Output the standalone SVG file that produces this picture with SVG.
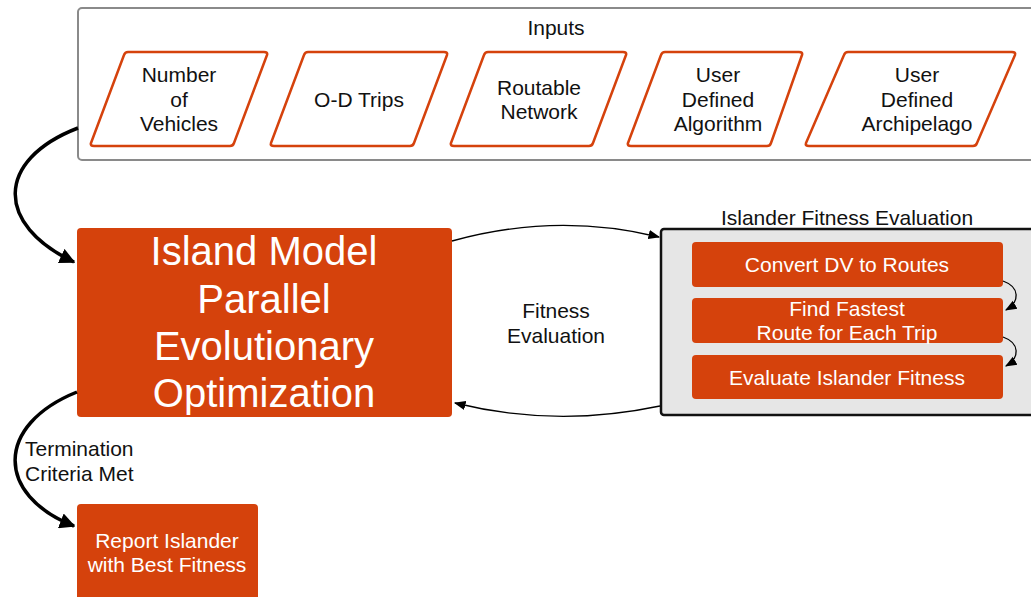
<svg xmlns="http://www.w3.org/2000/svg" width="1031" height="597" viewBox="0 0 1031 597">
<defs>
<style>
.t{font-family:"Liberation Sans",Arial,sans-serif;font-size:21px;fill:#111;text-anchor:middle}
.w{fill:#fff}
.big{font-size:40px}
.para{fill:#fff;stroke:#D5420C;stroke-width:2.5;stroke-linejoin:round}
.box{fill:#D5420C}
.thick{fill:none;stroke:#000;stroke-width:3.5}
.thin{fill:none;stroke:#000;stroke-width:1.3}
</style>
<marker id="ab" viewBox="0 0 10 10" refX="9" refY="5" markerWidth="4.5" markerHeight="4.5" orient="auto" markerUnits="strokeWidth"><path d="M0,0 L10,5 L0,10 z" fill="#000"/></marker>
<marker id="as" viewBox="0 0 10 10" refX="9" refY="5" markerWidth="9" markerHeight="9" orient="auto" markerUnits="strokeWidth"><path d="M0,1 L10,5 L0,9 z" fill="#000"/></marker>
</defs>
<g id="inputs">
<rect x="78" y="8" width="970" height="152" rx="4" fill="#fff" stroke="#8a8a8a" stroke-width="2"/>
<text class="t" x="556" y="35">Inputs</text>
</g>
<g id="in-vehicles">
<path class="para" d="M128,52 L264,52 Q268,52 267,55 L234,143 Q233,146 230,146 L94,146 Q90,146 91,143 L124,55 Q125,52 128,52 Z"/>
<text class="t" x="179" y="82">Number</text><text class="t" x="179" y="107">of</text><text class="t" x="179" y="131">Vehicles</text>
</g>
<g id="in-od">
<path class="para" d="M308,52 L444,52 Q448,52 447,55 L414,143 Q413,146 410,146 L274,146 Q270,146 271,143 L304,55 Q305,52 308,52 Z"/>
<text class="t" x="359" y="107">O-D Trips</text>
</g>
<g id="in-network">
<path class="para" d="M488,52 L623,52 Q627,52 626,55 L593,143 Q592,146 589,146 L454,146 Q450,146 451,143 L484,55 Q485,52 488,52 Z"/>
<text class="t" x="539" y="95">Routable</text><text class="t" x="539" y="119">Network</text>
</g>
<g id="in-algorithm">
<path class="para" d="M665,52 L799,52 Q803,52 802,55 L771,143 Q770,146 767,146 L631,146 Q627,146 628,143 L661,55 Q662,52 665,52 Z"/>
<text class="t" x="718" y="82">User</text><text class="t" x="718" y="107">Defined</text><text class="t" x="718" y="131">Algorithm</text>
</g>
<g id="in-archipelago">
<path class="para" d="M848,52 L1012,52 Q1016,52 1015,55 L977,143 Q976,146 973,146 L809,146 Q805,146 806,143 L844,55 Q845,52 848,52 Z"/>
<text class="t" x="917" y="82">User</text><text class="t" x="917" y="107">Defined</text><text class="t" x="917" y="131">Archipelago</text>
</g>
<g id="island-model">
<rect class="box" x="77" y="228" width="375" height="189" rx="4"/>
<text class="t w big" x="264" y="265">Island Model</text>
<text class="t w big" x="264" y="313">Parallel</text>
<text class="t w big" x="264" y="360">Evolutionary</text>
<text class="t w big" x="264" y="407">Optimization</text>
</g>
<g id="report">
<rect class="box" x="77" y="504" width="181" height="110" rx="4"/>
<text class="t w" x="167" y="548">Report Islander</text>
<text class="t w" x="167" y="572">with Best Fitness</text>
</g>
<g id="islander-eval">
<text class="t" x="847" y="225">Islander Fitness Evaluation</text>
<rect x="661" y="229" width="390" height="186" rx="3" fill="#e6e6e6" stroke="#111" stroke-width="2.5"/>
</g>
<g id="convert">
<rect class="box" x="692" y="242" width="311" height="45" rx="4"/>
<text class="t w" x="847" y="272">Convert DV to Routes</text>
</g>
<g id="fastest">
<rect class="box" x="692" y="298" width="311" height="45" rx="4"/>
<text class="t w" x="847" y="316">Find Fastest</text>
<text class="t w" x="847" y="340">Route for Each Trip</text>
</g>
<g id="evaluate">
<rect class="box" x="692" y="355" width="311" height="44" rx="4"/>
<text class="t w" x="847" y="385">Evaluate Islander Fitness</text>
</g>
<g id="connectors">
<path class="thick" d="M78,128 C-5,160 -5,225 74,262" marker-end="url(#ab)"/>
<path class="thick" d="M77,392 C-5,425 -5,495 74,526" marker-end="url(#ab)"/>
<path class="thin" d="M452,241 Q556,212 659,237" marker-end="url(#as)"/>
<path class="thin" d="M660,406 Q556,428 455,403" marker-end="url(#as)"/>
<path class="thin" d="M1003,281 C1020,287 1020,302 1006,310" marker-end="url(#as)"/>
<path class="thin" d="M1003,337 C1020,343 1020,358 1006,366" marker-end="url(#as)"/>
<text class="t" x="556" y="318">Fitness</text>
<text class="t" x="556" y="343">Evaluation</text>
<text class="t" x="25" y="456" style="text-anchor:start">Termination</text>
<text class="t" x="25" y="481" style="text-anchor:start">Criteria Met</text>
</g>
</svg>
